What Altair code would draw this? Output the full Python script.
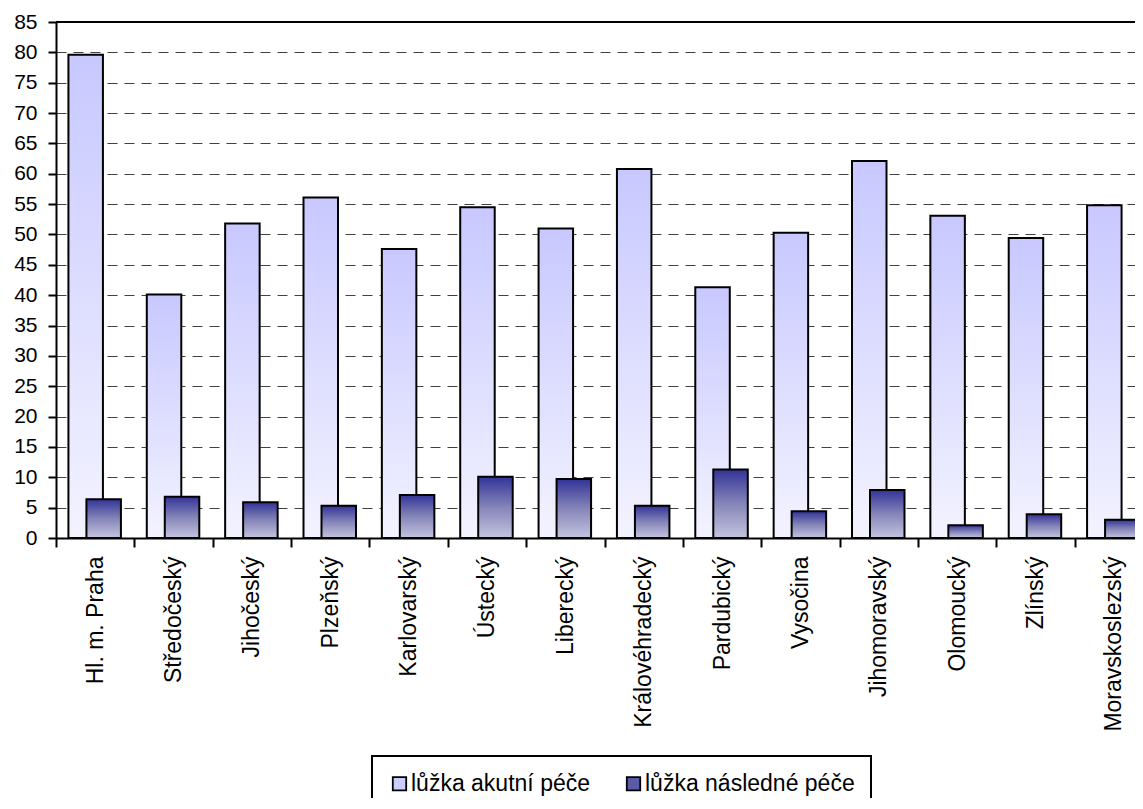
import altair as alt
import pandas as pd

regions = ["Hl. m. Praha", "Středočeský", "Jihočeský", "Plzeňský", "Karlovarský",
           "Ústecký", "Liberecký", "Královéhradecký", "Pardubický", "Vysočina",
           "Jihomoravský", "Olomoucký", "Zlínský", "Moravskoslezský"]
acute = [79.6, 40.1, 51.8, 56.1, 47.6, 54.5, 51.0, 60.8, 41.3, 50.3, 62.1, 53.1, 49.4, 54.8]
follow = [6.4, 6.8, 5.9, 5.3, 7.1, 10.1, 9.7, 5.3, 11.3, 4.4, 7.9, 2.1, 3.9, 3.0]
series = ["lůžka akutní péče", "lůžka následné péče"]
y_ticks = list(range(0, 90, 5))

df = pd.DataFrame({"kraj": regions, "akutni": acute, "nasledne": follow,
                   "s_akutni": [series[0]] * len(regions),
                   "s_nasledne": [series[1]] * len(regions)})

FONT = "Liberation Sans"

x_enc = alt.X(
    "kraj:N", sort=regions,
    scale=alt.Scale(range=[0, 1097], paddingInner=0, paddingOuter=0),
    axis=alt.Axis(title=None, labelAngle=270, labelAlign="right", labelBaseline="middle",
                  labelFontSize=23, labelFont=FONT, labelColor="black", labelLimit=400,
                  labelPadding=9, labelOverlap=False, tickBand="extent", tickSize=9,
                  tickColor="black", tickWidth=2, domainColor="black", domainWidth=2,
                  grid=False),
)

y_axis = alt.Axis(title=None, values=y_ticks, labelFontSize=21, labelFont=FONT,
                  labelColor="black", labelPadding=11, tickSize=8, tickColor="black",
                  tickWidth=2, domainColor="black", domainWidth=2, grid=True,
                  gridDash=[10, 7], gridColor="#404040", gridWidth=1)
y_scale = alt.Scale(domain=[0, 85], nice=False)

legend = alt.Legend(title=None, orient="none", legendX=316, legendY=734,
                    direction="horizontal", labelFontSize=23, labelFont=FONT,
                    labelColor="black", labelLimit=400, symbolType="square",
                    symbolSize=180, symbolStrokeColor="black", symbolStrokeWidth=1.8,
                    columnPadding=31, labelOffset=0, padding=16,
                    strokeColor="black", fillColor="white")
color_scale = alt.Scale(domain=series, range=["#ccccff", "#5a5aa6"])

acute_grad = alt.Gradient(
    gradient="linear", x1=0, x2=0, y1=0, y2=1,
    stops=[alt.GradientStop(color="#c8c8ff", offset=0),
           alt.GradientStop(color="#f3f3ff", offset=1)])
follow_grad = alt.Gradient(
    gradient="linear", x1=0, x2=0, y1=0, y2=1,
    stops=[alt.GradientStop(color="#333399", offset=0),
           alt.GradientStop(color="#8585b8", offset=0.5),
           alt.GradientStop(color="#c4c4e0", offset=1)])

base = alt.Chart(df)

acute_bars = base.mark_bar(fill=acute_grad, stroke="black", strokeWidth=2,
                           width=34.5, xOffset=-9.5).encode(
    x=x_enc,
    y=alt.Y("akutni:Q", scale=y_scale, axis=y_axis),
    color=alt.Color("s_akutni:N", scale=color_scale, legend=legend),
)

follow_bars = base.mark_bar(fill=follow_grad, stroke="black", strokeWidth=2,
                            width=34.5, xOffset=8.5).encode(
    x=x_enc,
    y=alt.Y("nasledne:Q", scale=y_scale, axis=y_axis),
    color=alt.Color("s_nasledne:N", scale=color_scale, legend=legend),
)

top_rule = alt.Chart(pd.DataFrame({"v": [85]})).mark_rule(
    color="black", strokeWidth=2).encode(
    y=alt.Y("v:Q", scale=y_scale, axis=y_axis),
    x=alt.value(0), x2=alt.value(1100),
)

chart = alt.layer(acute_bars, follow_bars, top_rule).properties(
    width=1079, height=516,
    autosize=alt.AutoSizeParams(type="none"),
    padding={"left": 48, "top": 14, "right": 0, "bottom": 260},
).configure(font=FONT).configure_view(stroke=None).configure_legend(strokeWidth=2)

chart.save("out.html", embed_options={"renderer": "svg", "actions": False})
